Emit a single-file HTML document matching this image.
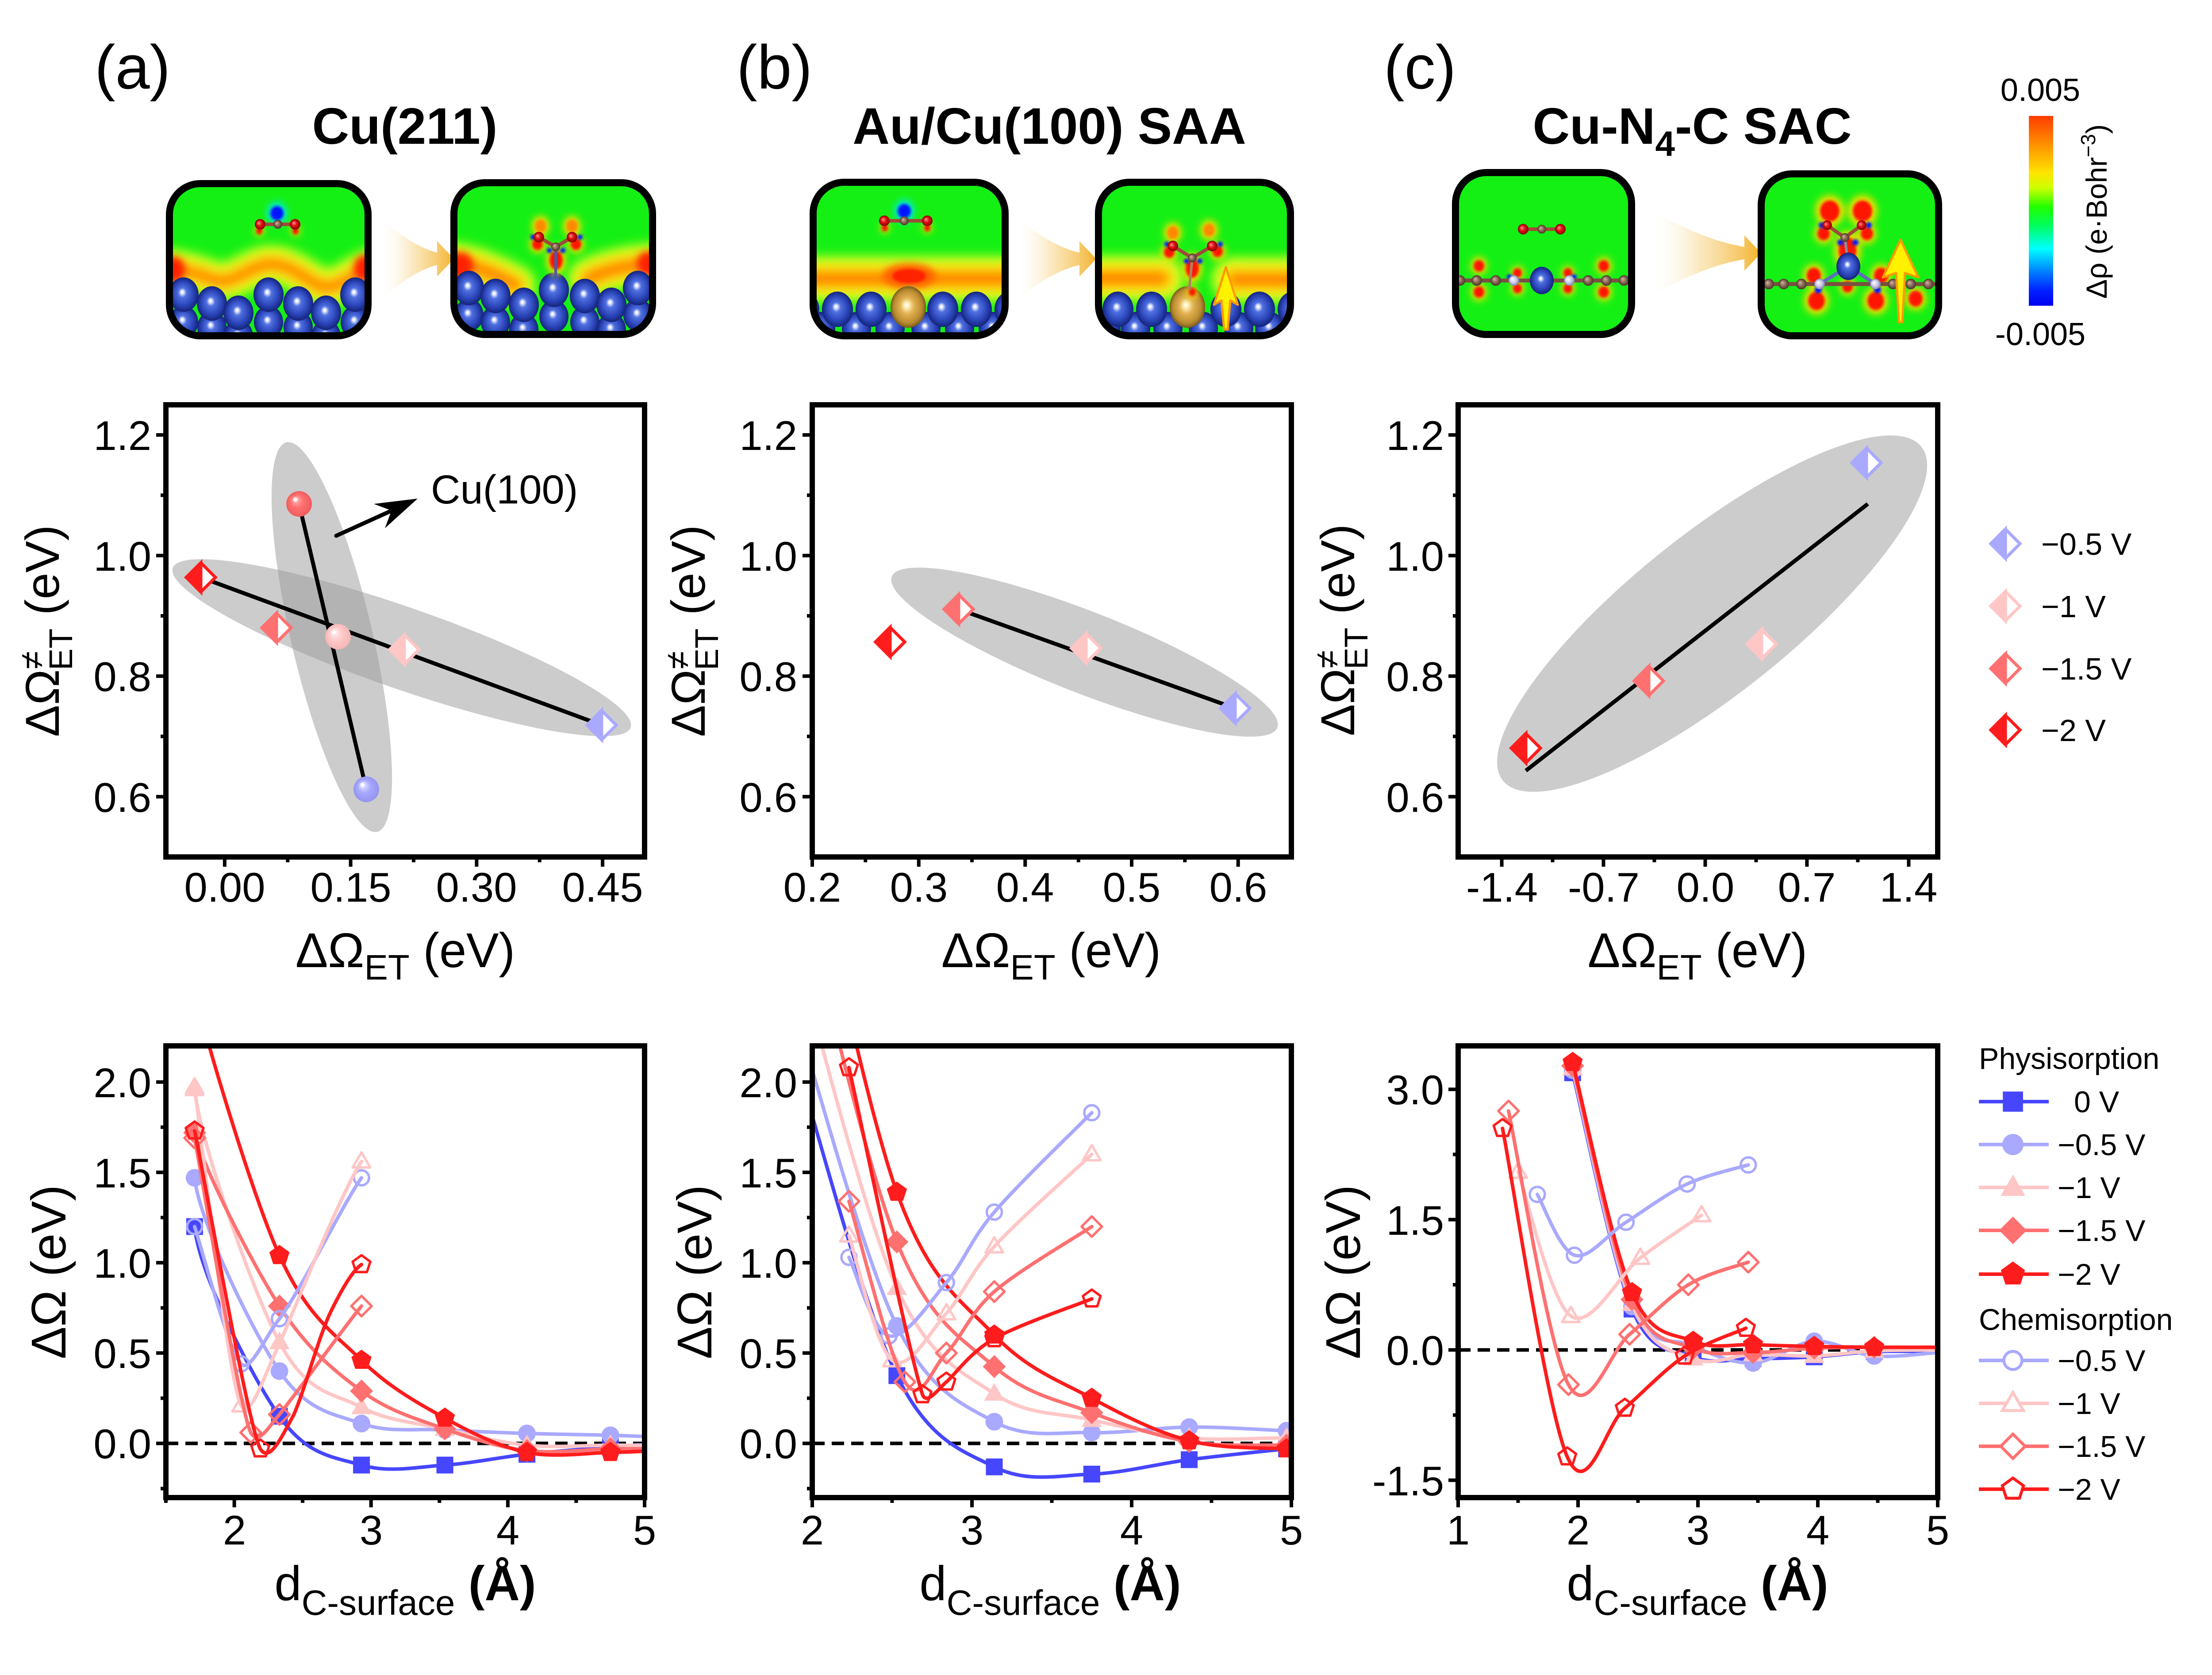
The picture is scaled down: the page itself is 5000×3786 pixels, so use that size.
<!DOCTYPE html>
<html><head><meta charset="utf-8"><title>chart</title>
<style>
html,body{margin:0;padding:0;background:#fff;width:5000px;height:3786px;overflow:hidden}
svg{display:block}
</style></head><body>
<svg xmlns="http://www.w3.org/2000/svg" width="5000" height="3786" viewBox="0 0 5000 3786" font-family="'Liberation Sans', Arial, sans-serif">
<defs>
 <radialGradient id="gB" cx="0.5" cy="0.5" r="0.5" fx="0.45" fy="0.42">
  <stop offset="0" stop-color="#ffffff"/><stop offset="0.08" stop-color="#eef2ff"/>
  <stop offset="0.28" stop-color="#5070e0"/><stop offset="0.7" stop-color="#2a44b8"/><stop offset="1" stop-color="#15247a"/>
 </radialGradient>
 <radialGradient id="gG" cx="0.5" cy="0.5" r="0.5" fx="0.45" fy="0.45">
  <stop offset="0" stop-color="#ffffff"/><stop offset="0.12" stop-color="#fff2c0"/>
  <stop offset="0.4" stop-color="#e2b050"/><stop offset="0.8" stop-color="#b88a30"/><stop offset="1" stop-color="#7a5a1a"/>
 </radialGradient>
 <radialGradient id="gO" cx="0.5" cy="0.5" r="0.5" fx="0.35" fy="0.35">
  <stop offset="0" stop-color="#ff9a9a"/><stop offset="0.5" stop-color="#e01010"/><stop offset="1" stop-color="#8a0000"/>
 </radialGradient>
 <radialGradient id="gC" cx="0.5" cy="0.5" r="0.5" fx="0.35" fy="0.35">
  <stop offset="0" stop-color="#d8b8a0"/><stop offset="0.6" stop-color="#806050"/><stop offset="1" stop-color="#4a3828"/>
 </radialGradient>
 <radialGradient id="gN" cx="0.5" cy="0.5" r="0.5" fx="0.35" fy="0.35">
  <stop offset="0" stop-color="#ffffff"/><stop offset="0.6" stop-color="#c8c8e8"/><stop offset="1" stop-color="#8080a8"/>
 </radialGradient>
 <radialGradient id="sS" cx="0.5" cy="0.5" r="0.5" fx="0.33" fy="0.3">
  <stop offset="0" stop-color="#ffffff"/><stop offset="0.1" stop-color="#ffffff"/><stop offset="0.22" stop-color="#ff9e9e"/>
  <stop offset="0.5" stop-color="#ff7070"/><stop offset="1" stop-color="#f05c5c"/>
 </radialGradient>
 <radialGradient id="sP" cx="0.5" cy="0.5" r="0.5" fx="0.33" fy="0.3">
  <stop offset="0" stop-color="#ffffff"/><stop offset="0.1" stop-color="#ffffff"/><stop offset="0.22" stop-color="#ffe2e2"/>
  <stop offset="0.5" stop-color="#ffcaca"/><stop offset="1" stop-color="#f5b6b6"/>
 </radialGradient>
 <radialGradient id="sL" cx="0.5" cy="0.5" r="0.5" fx="0.33" fy="0.3">
  <stop offset="0" stop-color="#ffffff"/><stop offset="0.1" stop-color="#ffffff"/><stop offset="0.22" stop-color="#d0d0ff"/>
  <stop offset="0.5" stop-color="#a8a8ff"/><stop offset="1" stop-color="#9494f0"/>
 </radialGradient>
 <linearGradient id="chev" x1="0" y1="0" x2="1" y2="0">
  <stop offset="0" stop-color="#ffffff" stop-opacity="0"/><stop offset="0.45" stop-color="#f8dc9c" stop-opacity="0.65"/><stop offset="1" stop-color="#f4b22c"/>
 </linearGradient>
 <linearGradient id="cbar" x1="0" y1="0" x2="0" y2="1">
  <stop offset="0" stop-color="#ff3c00"/><stop offset="0.15" stop-color="#ff9000"/><stop offset="0.3" stop-color="#ffe400"/>
  <stop offset="0.38" stop-color="#ccff00"/><stop offset="0.48" stop-color="#20ff00"/><stop offset="0.58" stop-color="#00ff60"/>
  <stop offset="0.7" stop-color="#00ffff"/><stop offset="0.82" stop-color="#0080ff"/><stop offset="0.92" stop-color="#0020ff"/><stop offset="1" stop-color="#0000f0"/>
 </linearGradient>
 <filter id="fb3" filterUnits="userSpaceOnUse" x="300" y="340" width="4200" height="460"><feGaussianBlur stdDeviation="3"/></filter>
 <filter id="fb8" filterUnits="userSpaceOnUse" x="300" y="340" width="4200" height="460"><feGaussianBlur stdDeviation="8"/></filter>
 <filter id="fb12" filterUnits="userSpaceOnUse" x="300" y="340" width="4200" height="460"><feGaussianBlur stdDeviation="12"/></filter>

 <clipPath id="clA"><rect x="375" y="2364" width="1082" height="1021"/></clipPath>
 <clipPath id="clB"><rect x="1836" y="2364" width="1083" height="1021"/></clipPath>
 <clipPath id="clC"><rect x="3296" y="2364" width="1084" height="1021"/></clipPath>
 <clipPath id="kAL"><rect x="383" y="415" width="449" height="344" rx="70"/></clipPath>
 <clipPath id="kAR"><rect x="1026" y="413" width="449" height="343" rx="70"/></clipPath>
 <clipPath id="kBL"><rect x="1838" y="412" width="434" height="347" rx="70"/></clipPath>
 <clipPath id="kBR"><rect x="2483" y="412" width="434" height="347" rx="70"/></clipPath>
 <clipPath id="kCL"><rect x="3290" y="390" width="398" height="366" rx="70"/></clipPath>
 <clipPath id="kCR"><rect x="3981" y="393" width="401" height="366" rx="70"/></clipPath>

 <path id="bandAL" d="M360,604 C400,604 440,616 482,632 C522,646 552,610 600,598 C640,590 680,622 722,646 C762,662 800,612 850,602"/>
 <path id="bandAR1" d="M1000,592 C1060,594 1110,615 1165,645"/>
 <path id="bandAR2" d="M1330,630 C1370,610 1420,598 1500,594"/>
 <path id="bandBL" d="M1820,630 L2290,630"/>
 <path id="bandBR1" d="M2460,629 L2625,629"/>
 <path id="bandBR2" d="M2790,632 L2940,632"/>

 <!-- markers -->
 <g id="mSq"><rect x="-19" y="-19" width="38" height="38" fill="#4646ff"/></g>
 <g id="mCiF"><circle r="20" fill="#a9a9ff"/></g>
 <g id="mTrF"><polygon points="0,-24.2 23.1,15.8 -23.1,15.8" fill="#ffc6c6"/></g>
 <g id="mDiF"><polygon points="0,-26 26,0 0,26 -26,0" fill="#ff7070"/></g>
 <g id="mPeF"><polygon points="0,-24 22.83,-7.42 14.11,19.42 -14.11,19.42 -22.83,-7.42" fill="#ff1c1c"/></g>
 <g id="mCiO"><circle r="17" fill="none" stroke="#a9a9ff" stroke-width="5.5"/></g>
 <g id="mTrO"><polygon points="0,-20.7 19.8,13.5 -19.8,13.5" fill="none" stroke="#ffc6c6" stroke-width="5.5"/></g>
 <g id="mDiO"><polygon points="0,-23 23,0 0,23 -23,0" fill="none" stroke="#ff7070" stroke-width="5.5"/></g>
 <g id="mPeO"><polygon points="0,-21 19.97,-6.49 12.34,16.99 -12.34,16.99 -19.97,-6.49" fill="none" stroke="#ff1c1c" stroke-width="5.5"/></g>
 <g id="hd05"><polygon points="0,-33 33,0 0,33 -33,0" fill="#fff" stroke="#a9a9ff" stroke-width="7"/><polygon points="0,-33 0,33 -33,0" fill="#a9a9ff" stroke="#a9a9ff" stroke-width="7"/></g>
 <g id="hd1"><polygon points="0,-33 33,0 0,33 -33,0" fill="#fff" stroke="#ffc6c6" stroke-width="7"/><polygon points="0,-33 0,33 -33,0" fill="#ffc6c6" stroke="#ffc6c6" stroke-width="7"/></g>
 <g id="hd15"><polygon points="0,-33 33,0 0,33 -33,0" fill="#fff" stroke="#ff7070" stroke-width="7"/><polygon points="0,-33 0,33 -33,0" fill="#ff7070" stroke="#ff7070" stroke-width="7"/></g>
 <g id="hd2"><polygon points="0,-33 33,0 0,33 -33,0" fill="#fff" stroke="#ff1c1c" stroke-width="7"/><polygon points="0,-33 0,33 -33,0" fill="#ff1c1c" stroke="#ff1c1c" stroke-width="7"/></g>
</defs>

<rect width="5000" height="3786" fill="#fff"/>

<!-- ================= TOP IMAGES ================= -->
<path d="M857,488 Q929,556 988,571 L988,545 L1026,585 L988,625 L988,599 Q929,614 857,682 Z" fill="url(#chev)"/>
<path d="M2294,488 Q2374,556 2440,571 L2440,545 L2478,585 L2440,625 L2440,599 Q2374,614 2294,682 Z" fill="url(#chev)"/>
<path d="M3728,472 Q3846,542 3943,558 L3943,532 L3981,572 L3943,612 L3943,586 Q3846,602 3728,672 Z" fill="url(#chev)"/>

<!-- aL -->
<g clip-path="url(#kAL)">
 <rect x="383" y="415" width="449" height="344" fill="#14f014"/>
 <g filter="url(#fb12)" fill="none">
  <use href="#bandAL" stroke="#e0ff20" stroke-width="84"/>
  <use href="#bandAL" stroke="#ffc800" stroke-width="44"/>
  <use href="#bandAL" stroke="#ff7a00" stroke-width="20"/>
 </g>
 <g filter="url(#fb8)" fill="#ff2000"><ellipse cx="392" cy="610" rx="26" ry="30"/><ellipse cx="826" cy="606" rx="26" ry="30"/></g>
 <g fill="url(#gB)">
  <ellipse cx="415" cy="728" rx="33" ry="37"/><ellipse cx="479" cy="740" rx="33" ry="37"/><ellipse cx="539" cy="760" rx="33" ry="37"/><ellipse cx="607" cy="728" rx="33" ry="37"/><ellipse cx="674" cy="740" rx="33" ry="37"/><ellipse cx="737" cy="760" rx="33" ry="37"/><ellipse cx="803" cy="728" rx="33" ry="37"/>
  <ellipse cx="415" cy="666" rx="34" ry="39"/><ellipse cx="479" cy="686" rx="34" ry="39"/><ellipse cx="539" cy="707" rx="34" ry="39"/><ellipse cx="607" cy="666" rx="34" ry="39"/><ellipse cx="674" cy="686" rx="34" ry="39"/><ellipse cx="737" cy="707" rx="34" ry="39"/><ellipse cx="803" cy="666" rx="34" ry="39"/>
 </g>
 <g filter="url(#fb8)"><ellipse cx="626" cy="482" rx="22" ry="25" fill="#00e8e8"/><ellipse cx="586" cy="522" rx="10" ry="12" fill="#f4e000"/><ellipse cx="668" cy="522" rx="10" ry="12" fill="#f4e000"/></g>
 <g filter="url(#fb3)"><ellipse cx="626" cy="482" rx="15" ry="16" fill="#0018ff"/><ellipse cx="586" cy="522" rx="7" ry="8" fill="#ff1200"/><ellipse cx="668" cy="522" rx="7" ry="8" fill="#ff1200"/></g>
 <line x1="588" y1="507" x2="667" y2="507" stroke="#a04a38" stroke-width="8"/>
 <circle cx="588" cy="507" r="12" fill="url(#gO)"/><circle cx="667" cy="507" r="12" fill="url(#gO)"/><circle cx="628" cy="507" r="10" fill="url(#gC)"/>
</g>
<rect x="383" y="415" width="449" height="344" rx="70" fill="none" stroke="#000" stroke-width="16"/>

<!-- aR -->
<g clip-path="url(#kAR)">
 <rect x="1026" y="413" width="449" height="343" fill="#14f014"/>
 <g filter="url(#fb12)" fill="none" stroke-linecap="round">
  <use href="#bandAR1" stroke="#e0ff20" stroke-width="90"/><use href="#bandAR2" stroke="#e0ff20" stroke-width="90"/>
  <use href="#bandAR1" stroke="#ffc800" stroke-width="50"/><use href="#bandAR2" stroke="#ffc800" stroke-width="50"/>
  <use href="#bandAR1" stroke="#ff7a00" stroke-width="24"/><use href="#bandAR2" stroke="#ff7a00" stroke-width="24"/>
 </g>
 <g filter="url(#fb8)" fill="#ff2000"><ellipse cx="1040" cy="600" rx="30" ry="30"/><ellipse cx="1466" cy="596" rx="26" ry="28"/></g>
 <g fill="url(#gB)">
  <ellipse cx="1060" cy="712" rx="33" ry="37"/><ellipse cx="1120" cy="728" rx="33" ry="37"/><ellipse cx="1184" cy="745" rx="33" ry="37"/><ellipse cx="1252" cy="715" rx="33" ry="37"/><ellipse cx="1322" cy="728" rx="33" ry="37"/><ellipse cx="1382" cy="745" rx="33" ry="37"/><ellipse cx="1442" cy="712" rx="33" ry="37"/>
  <ellipse cx="1060" cy="651" rx="34" ry="39"/><ellipse cx="1120" cy="669" rx="34" ry="39"/><ellipse cx="1184" cy="689" rx="34" ry="39"/><ellipse cx="1252" cy="655" rx="34" ry="39"/><ellipse cx="1322" cy="669" rx="34" ry="39"/><ellipse cx="1382" cy="689" rx="34" ry="39"/><ellipse cx="1442" cy="651" rx="34" ry="39"/>
 </g>
 <g filter="url(#fb8)" fill="#f4e000">
  <ellipse cx="1222" cy="511" rx="20" ry="23"/><ellipse cx="1293" cy="511" rx="20" ry="23"/><ellipse cx="1215" cy="552" rx="18" ry="20"/><ellipse cx="1302" cy="552" rx="18" ry="20"/><ellipse cx="1257" cy="588" rx="22" ry="34"/>
 </g>
 <g filter="url(#fb3)">
  <ellipse cx="1222" cy="511" rx="13" ry="15" fill="#ff8a00"/><ellipse cx="1293" cy="511" rx="13" ry="15" fill="#ff8a00"/><ellipse cx="1215" cy="552" rx="12" ry="13" fill="#ff1200"/><ellipse cx="1302" cy="552" rx="12" ry="13" fill="#ff1200"/><ellipse cx="1257" cy="588" rx="15" ry="22" fill="#ff1200"/>
 </g>
 <g filter="url(#fb3)" fill="#0018ff"><circle cx="1205" cy="536" r="6"/><circle cx="1311" cy="536" r="6"/><circle cx="1242" cy="566" r="6"/><circle cx="1272" cy="566" r="6"/></g>
 <line x1="1256" y1="560" x2="1256" y2="628" stroke="#4a5aa8" stroke-width="6"/>
 <line x1="1218" y1="536" x2="1256" y2="558" stroke="#a04a38" stroke-width="8"/><line x1="1293" y1="536" x2="1256" y2="558" stroke="#a04a38" stroke-width="8"/>
 <circle cx="1218" cy="536" r="12" fill="url(#gO)"/><circle cx="1293" cy="536" r="12" fill="url(#gO)"/><circle cx="1256" cy="558" r="10" fill="url(#gC)"/>
</g>
<rect x="1026" y="413" width="449" height="343" rx="70" fill="none" stroke="#000" stroke-width="16"/>

<!-- bL -->
<g clip-path="url(#kBL)">
 <rect x="1838" y="412" width="434" height="347" fill="#14f014"/>
 <g filter="url(#fb12)" fill="none">
  <use href="#bandBL" stroke="#e0ff20" stroke-width="100"/>
  <use href="#bandBL" stroke="#ffc800" stroke-width="56"/>
  <use href="#bandBL" stroke="#ff7a00" stroke-width="26"/>
 </g>
 <g filter="url(#fb8)"><ellipse cx="2055" cy="624" rx="60" ry="28" fill="#ff6000"/></g>
 <g filter="url(#fb3)"><ellipse cx="2055" cy="624" rx="38" ry="16" fill="#ff2000"/></g>
 <g filter="url(#fb8)"><ellipse cx="2055" cy="668" rx="13" ry="15" fill="#00e8e8"/></g>
 <g filter="url(#fb3)"><ellipse cx="2055" cy="668" rx="9" ry="10" fill="#0018ff"/></g>
 <g fill="url(#gB)">
  <ellipse cx="1855" cy="742" rx="33" ry="37"/><ellipse cx="1936" cy="742" rx="33" ry="37"/><ellipse cx="2012" cy="742" rx="33" ry="37"/><ellipse cx="2093" cy="742" rx="33" ry="37"/><ellipse cx="2169" cy="742" rx="33" ry="37"/><ellipse cx="2245" cy="742" rx="33" ry="37"/>
  <ellipse cx="1817" cy="699" rx="35" ry="40"/><ellipse cx="1893" cy="699" rx="35" ry="40"/><ellipse cx="1969" cy="699" rx="35" ry="40"/><ellipse cx="2131" cy="699" rx="35" ry="40"/><ellipse cx="2207" cy="699" rx="35" ry="40"/><ellipse cx="2283" cy="699" rx="35" ry="40"/>
 </g>
 <ellipse cx="2053" cy="694" rx="40" ry="47" fill="url(#gG)"/>
 <g filter="url(#fb8)"><ellipse cx="2044" cy="477" rx="22" ry="25" fill="#00e8e8"/><ellipse cx="2000" cy="515" rx="10" ry="12" fill="#f4e000"/><ellipse cx="2096" cy="515" rx="10" ry="12" fill="#f4e000"/></g>
 <g filter="url(#fb3)"><ellipse cx="2044" cy="477" rx="15" ry="16" fill="#0018ff"/><ellipse cx="2000" cy="515" rx="7" ry="8" fill="#ff1200"/><ellipse cx="2096" cy="515" rx="7" ry="8" fill="#ff1200"/></g>
 <line x1="1999" y1="499" x2="2096" y2="499" stroke="#a04a38" stroke-width="8"/>
 <circle cx="1999" cy="499" r="12" fill="url(#gO)"/><circle cx="2096" cy="499" r="12" fill="url(#gO)"/><circle cx="2044" cy="499" r="10" fill="url(#gC)"/>
</g>
<rect x="1838" y="412" width="434" height="347" rx="70" fill="none" stroke="#000" stroke-width="16"/>

<!-- bR -->
<g clip-path="url(#kBR)">
 <rect x="2483" y="412" width="434" height="347" fill="#14f014"/>
 <g filter="url(#fb12)" fill="none" stroke-linecap="round">
  <use href="#bandBR1" stroke="#e0ff20" stroke-width="100"/><use href="#bandBR2" stroke="#e0ff20" stroke-width="100"/>
  <use href="#bandBR1" stroke="#ffc800" stroke-width="56"/><use href="#bandBR2" stroke="#ffc800" stroke-width="56"/>
  <use href="#bandBR1" stroke="#ff7a00" stroke-width="26"/><use href="#bandBR2" stroke="#ff7a00" stroke-width="26"/>
 </g>
 <g fill="url(#gB)">
  <ellipse cx="2500" cy="742" rx="33" ry="37"/><ellipse cx="2567" cy="742" rx="33" ry="37"/><ellipse cx="2640" cy="742" rx="33" ry="37"/><ellipse cx="2720" cy="742" rx="33" ry="37"/><ellipse cx="2800" cy="742" rx="33" ry="37"/><ellipse cx="2870" cy="742" rx="33" ry="37"/>
  <ellipse cx="2451" cy="699" rx="35" ry="40"/><ellipse cx="2527" cy="699" rx="35" ry="40"/><ellipse cx="2603" cy="699" rx="35" ry="40"/><ellipse cx="2771" cy="699" rx="35" ry="40"/><ellipse cx="2847" cy="699" rx="35" ry="40"/><ellipse cx="2923" cy="699" rx="35" ry="40"/>
 </g>
 <ellipse cx="2684" cy="694" rx="40" ry="47" fill="url(#gG)"/>
 <g filter="url(#fb8)" fill="#f4e000">
  <ellipse cx="2651" cy="526" rx="20" ry="23"/><ellipse cx="2733" cy="520" rx="20" ry="23"/><ellipse cx="2643" cy="570" rx="18" ry="20"/><ellipse cx="2752" cy="568" rx="18" ry="20"/><ellipse cx="2695" cy="606" rx="22" ry="34"/><ellipse cx="2695" cy="660" rx="12" ry="13"/>
 </g>
 <g filter="url(#fb3)">
  <ellipse cx="2651" cy="526" rx="13" ry="15" fill="#ff8a00"/><ellipse cx="2733" cy="520" rx="13" ry="15" fill="#ff8a00"/><ellipse cx="2643" cy="570" rx="12" ry="13" fill="#ff1200"/><ellipse cx="2752" cy="568" rx="12" ry="13" fill="#ff1200"/><ellipse cx="2695" cy="606" rx="15" ry="22" fill="#ff1200"/><ellipse cx="2695" cy="660" rx="8" ry="9" fill="#ff1200"/>
 </g>
 <g filter="url(#fb3)" fill="#0018ff"><circle cx="2638" cy="552" r="6"/><circle cx="2758" cy="552" r="6"/><circle cx="2682" cy="590" r="6"/><circle cx="2712" cy="590" r="6"/></g>
 <line x1="2695" y1="583" x2="2688" y2="655" stroke="#b08060" stroke-width="6"/>
 <line x1="2651" y1="556" x2="2695" y2="583" stroke="#a04a38" stroke-width="8"/><line x1="2740" y1="556" x2="2695" y2="583" stroke="#a04a38" stroke-width="8"/>
 <circle cx="2651" cy="556" r="12" fill="url(#gO)"/><circle cx="2740" cy="556" r="12" fill="url(#gO)"/><circle cx="2695" cy="583" r="10" fill="url(#gC)"/>
 <polygon points="2767,745 2775,745 2781,679 2798,689 2771,604 2744,689 2761,679" fill="#fff200" stroke="#ff9a00" stroke-width="5" stroke-linejoin="round"/>
</g>
<rect x="2483" y="412" width="434" height="347" rx="70" fill="none" stroke="#000" stroke-width="16"/>

<!-- cL -->
<g clip-path="url(#kCL)">
 <rect x="3290" y="390" width="398" height="366" fill="#14f014"/>
 <g filter="url(#fb8)" fill="#f4e000">
  <ellipse cx="3343" cy="601" rx="18" ry="20"/><ellipse cx="3343" cy="660" rx="18" ry="20"/><ellipse cx="3430" cy="617" rx="15" ry="16"/><ellipse cx="3430" cy="652" rx="15" ry="16"/>
  <ellipse cx="3544" cy="617" rx="15" ry="16"/><ellipse cx="3544" cy="652" rx="15" ry="16"/><ellipse cx="3625" cy="601" rx="18" ry="20"/><ellipse cx="3625" cy="660" rx="18" ry="20"/>
 </g>
 <g filter="url(#fb3)" fill="#ff1200">
  <ellipse cx="3343" cy="601" rx="12" ry="13"/><ellipse cx="3343" cy="660" rx="12" ry="13"/><ellipse cx="3430" cy="617" rx="10" ry="11"/><ellipse cx="3430" cy="652" rx="10" ry="11"/>
  <ellipse cx="3544" cy="617" rx="10" ry="11"/><ellipse cx="3544" cy="652" rx="10" ry="11"/><ellipse cx="3625" cy="601" rx="12" ry="13"/><ellipse cx="3625" cy="660" rx="12" ry="13"/>
 </g>
 <g filter="url(#fb3)" fill="#0018ff"><circle cx="3412" cy="626" r="6"/><circle cx="3558" cy="626" r="6"/></g>
 <line x1="3270" y1="634" x2="3710" y2="634" stroke="#7a5040" stroke-width="9"/>
 <g fill="url(#gC)"><circle cx="3300" cy="634" r="12"/><circle cx="3338" cy="634" r="12"/><circle cx="3381" cy="634" r="12"/><circle cx="3590" cy="634" r="12"/><circle cx="3631" cy="634" r="12"/><circle cx="3671" cy="634" r="12"/></g>
 <circle cx="3422" cy="634" r="12" fill="url(#gN)"/><circle cx="3547" cy="634" r="12" fill="url(#gN)"/>
 <ellipse cx="3485" cy="634" rx="27" ry="31" fill="url(#gB)"/>
 <line x1="3443" y1="518" x2="3527" y2="518" stroke="#a04a38" stroke-width="8"/>
 <circle cx="3443" cy="518" r="12" fill="url(#gO)"/><circle cx="3527" cy="518" r="12" fill="url(#gO)"/><circle cx="3485" cy="518" r="10" fill="url(#gC)"/>
</g>
<rect x="3290" y="390" width="398" height="366" rx="70" fill="none" stroke="#000" stroke-width="16"/>

<!-- cR -->
<g clip-path="url(#kCR)">
 <rect x="3981" y="393" width="401" height="366" fill="#14f014"/>
 <g filter="url(#fb8)" fill="#f4e000">
  <ellipse cx="4136" cy="477" rx="33" ry="36"/><ellipse cx="4210" cy="477" rx="33" ry="36"/><ellipse cx="4122" cy="528" rx="21" ry="23"/><ellipse cx="4220" cy="528" rx="21" ry="23"/>
  <ellipse cx="4176" cy="566" rx="30" ry="45"/><ellipse cx="4100" cy="623" rx="24" ry="26"/><ellipse cx="4252" cy="623" rx="24" ry="26"/><ellipse cx="4106" cy="680" rx="28" ry="31"/>
  <ellipse cx="4240" cy="680" rx="28" ry="31"/><ellipse cx="4330" cy="675" rx="24" ry="26"/><ellipse cx="4176" cy="648" rx="18" ry="20"/>
 </g>
 <g filter="url(#fb3)" fill="#ff1200">
  <ellipse cx="4136" cy="477" rx="22" ry="24"/><ellipse cx="4210" cy="477" rx="22" ry="24"/><ellipse cx="4122" cy="528" rx="14" ry="15"/><ellipse cx="4220" cy="528" rx="14" ry="15"/>
  <ellipse cx="4176" cy="566" rx="20" ry="30"/><ellipse cx="4100" cy="623" rx="16" ry="18"/><ellipse cx="4252" cy="623" rx="16" ry="18"/><ellipse cx="4106" cy="680" rx="19" ry="21"/>
  <ellipse cx="4240" cy="680" rx="19" ry="21"/><ellipse cx="4330" cy="675" rx="16" ry="18"/><ellipse cx="4176" cy="648" rx="12" ry="13"/>
 </g>
 <g filter="url(#fb3)" fill="#0018ff"><circle cx="4118" cy="509" r="7"/><circle cx="4224" cy="509" r="7"/><circle cx="4160" cy="548" r="7"/><circle cx="4194" cy="548" r="7"/><circle cx="4110" cy="655" r="8"/><circle cx="4244" cy="655" r="8"/></g>
 <line x1="3975" y1="642" x2="4390" y2="642" stroke="#7a5040" stroke-width="9"/>
 <line x1="4113" y1="642" x2="4178" y2="602" stroke="#6070b8" stroke-width="8"/><line x1="4239" y1="642" x2="4178" y2="602" stroke="#6070b8" stroke-width="8"/>
 <g fill="url(#gC)"><circle cx="3998" cy="642" r="12"/><circle cx="4032" cy="642" r="12"/><circle cx="4072" cy="642" r="12"/><circle cx="4279" cy="642" r="12"/><circle cx="4319" cy="642" r="12"/><circle cx="4359" cy="642" r="12"/></g>
 <circle cx="4113" cy="642" r="12" fill="url(#gN)"/><circle cx="4239" cy="642" r="12" fill="url(#gN)"/>
 <line x1="4170" y1="537" x2="4178" y2="600" stroke="#8a8aa0" stroke-width="6"/>
 <ellipse cx="4178" cy="602" rx="27" ry="31" fill="url(#gB)"/>
 <line x1="4130" y1="509" x2="4170" y2="537" stroke="#a04a38" stroke-width="8"/><line x1="4208" y1="509" x2="4170" y2="537" stroke="#a04a38" stroke-width="8"/>
 <circle cx="4130" cy="509" r="11" fill="url(#gO)"/><circle cx="4208" cy="509" r="11" fill="url(#gO)"/><circle cx="4170" cy="537" r="10" fill="url(#gC)"/>
 <polygon points="4292,728 4300,728 4306,617 4336,627 4296,542 4256,627 4286,617" fill="#fff200" stroke="#ff9a00" stroke-width="5" stroke-linejoin="round"/>
</g>
<rect x="3981" y="393" width="401" height="366" rx="70" fill="none" stroke="#000" stroke-width="16"/>

<rect x="4586" y="262" width="55" height="429" fill="url(#cbar)"/>

<!-- ================= MIDDLE ROW ================= -->
<!-- A2 -->
<ellipse cx="908" cy="1464" rx="548" ry="92" transform="rotate(19.2 908 1464)" fill="#999" fill-opacity="0.5"/>
<ellipse cx="750" cy="1440" rx="92" ry="452" transform="rotate(-13.1 750 1440)" fill="#999" fill-opacity="0.5"/>
<line x1="454" y1="1305" x2="1360" y2="1639" stroke="#000" stroke-width="9"/>
<line x1="676" y1="1139" x2="828" y2="1784" stroke="#000" stroke-width="9"/>
<line x1="760" y1="1211" x2="890" y2="1152" stroke="#000" stroke-width="9" stroke-linecap="round"/>
<polygon points="944,1127 845,1139 885,1154 870,1194" fill="#000"/>
<use href="#hd2" x="454" y="1305"/><use href="#hd15" x="625" y="1419"/><use href="#hd1" x="914" y="1468"/><use href="#hd05" x="1360" y="1639"/>
<circle cx="676" cy="1139" r="29" fill="url(#sS)"/>
<circle cx="764" cy="1439" r="29" fill="url(#sP)"/>
<circle cx="828" cy="1784" r="29" fill="url(#sL)"/>
<g stroke="#000" fill="none">
 <path stroke-width="8" d="M507.9,1937 v22 M792.6,1937 v22 M1077.4,1937 v22 M1362.1,1937 v22 M650.3,1937 v12 M935,1937 v12 M1219.7,1937 v12 M375,1800.7 h-22 M375,1528.2 h-22 M375,1255.7 h-22 M375,983.1 h-22 M375,1664.5 h-12 M375,1392 h-12 M375,1119.4 h-12"/>
 <rect x="375" y="915" width="1082" height="1022" stroke-width="12"/>
</g>
<!-- B2 -->
<ellipse cx="2451.5" cy="1474" rx="468" ry="92" transform="rotate(21.4 2451.5 1474)" fill="#999" fill-opacity="0.5"/>
<line x1="2167" y1="1377" x2="2792" y2="1601" stroke="#000" stroke-width="9"/>
<use href="#hd2" x="2012" y="1451"/><use href="#hd15" x="2167" y="1377"/><use href="#hd1" x="2455" y="1465"/><use href="#hd05" x="2792" y="1601"/>
<g stroke="#000" fill="none">
 <path stroke-width="8" d="M1836,1937 v22 M2076.7,1937 v22 M2317.3,1937 v22 M2558,1937 v22 M2798.7,1937 v22 M1956.3,1937 v12 M2197,1937 v12 M2437.7,1937 v12 M2678.3,1937 v12 M1836,1800.7 h-22 M1836,1528.2 h-22 M1836,1255.7 h-22 M1836,983.1 h-22 M1836,1664.5 h-12 M1836,1392 h-12 M1836,1119.4 h-12"/>
 <rect x="1836" y="915" width="1083" height="1022" stroke-width="12"/>
</g>
<!-- C2 -->
<ellipse cx="3870" cy="1387" rx="605" ry="180" transform="rotate(-38.6 3870 1387)" fill="#999" fill-opacity="0.5"/>
<line x1="3449" y1="1742" x2="4222" y2="1139" stroke="#000" stroke-width="9"/>
<use href="#hd2" x="3449" y="1691"/><use href="#hd15" x="3727" y="1539"/><use href="#hd1" x="3982" y="1456"/><use href="#hd05" x="4219" y="1046"/>
<g stroke="#000" fill="none">
 <path stroke-width="8" d="M3394.6,1937 v22 M3624.5,1937 v22 M3854.5,1937 v22 M4084.4,1937 v22 M4314.4,1937 v22 M3509.5,1937 v12 M3739.5,1937 v12 M3969.5,1937 v12 M4199.4,1937 v12 M3296,1800.7 h-22 M3296,1528.2 h-22 M3296,1255.7 h-22 M3296,983.1 h-22 M3296,1664.5 h-12 M3296,1392 h-12 M3296,1119.4 h-12"/>
 <rect x="3296" y="915" width="1084" height="1022" stroke-width="12"/>
</g>
<!-- middle legend markers -->
<use href="#hd05" x="4533" y="1229"/><use href="#hd1" x="4533" y="1370"/><use href="#hd15" x="4533" y="1511"/><use href="#hd2" x="4533" y="1650"/>

<!-- ================= BOTTOM ROW ================= -->
<!-- A3 -->
<g clip-path="url(#clA)" fill="none" stroke-width="8" stroke-linejoin="round" stroke-linecap="round">
 <line x1="375" y1="3262.5" x2="1457" y2="3262.5" stroke="#000" stroke-width="8" stroke-dasharray="28 16" stroke-linecap="butt"/>
 <path stroke="#4646ff" d="M439.9,2772.4 C450,2880 568.7,3111.3 631.6,3201.2 S754.8,3293.1 817.1,3311.5 S943.3,3315.6 1005.6,3311.5 S1128.7,3293.8 1191.1,3287 S1330.2,3274.8 1379.7,3270.7 S1469.9,3263.9 1487.9,3262.5"/>
 <use href="#mSq" x="439.9" y="2772.4"/><use href="#mSq" x="631.6" y="3201.2"/><use href="#mSq" x="817.1" y="3311.5"/><use href="#mSq" x="1005.6" y="3311.5"/><use href="#mSq" x="1191.1" y="3287"/><use href="#mSq" x="1379.7" y="3270.7"/>
 <path stroke="#a9a9ff" d="M439.9,2662.2 C450,2760 568.7,3006.5 631.6,3099.1 S754.8,3195.5 817.1,3217.6 S943.3,3228.2 1005.6,3231.9 S1128.7,3238 1191.1,3240 S1330.2,3242.7 1379.7,3244.1 S1469.9,3247.5 1487.9,3248.2"/>
 <use href="#mCiF" x="439.9" y="2662.2"/><use href="#mCiF" x="631.6" y="3099.1"/><use href="#mCiF" x="817.1" y="3217.6"/><use href="#mCiF" x="1005.6" y="3231.9"/><use href="#mCiF" x="1191.1" y="3240"/><use href="#mCiF" x="1379.7" y="3244.1"/>
 <path stroke="#ffc6c6" d="M439.9,2462 C452,2580 568.7,2914 631.6,3033.8 S754.8,3148.1 817.1,3180.8 S943.3,3215.5 1005.6,3229.8 S1128.7,3260.5 1191.1,3266.6 S1330.2,3266.6 1379.7,3266.6 S1469.9,3266.6 1487.9,3266.6"/>
 <use href="#mTrF" x="439.9" y="2462"/><use href="#mTrF" x="631.6" y="3033.8"/><use href="#mTrF" x="817.1" y="3180.8"/><use href="#mTrF" x="1005.6" y="3229.8"/><use href="#mTrF" x="1191.1" y="3266.6"/><use href="#mTrF" x="1379.7" y="3266.6"/>
 <path stroke="#ff7070" d="M439.9,2560.1 C455,2630 568.7,2854.8 631.6,2952.1 S754.8,3097.8 817.1,3144.1 S943.3,3207.3 1005.6,3229.8 S1128.7,3271.3 1191.1,3278.8 S1330.2,3275.5 1379.7,3274.8 S1469.9,3274.8 1487.9,3274.8"/>
 <use href="#mDiF" x="439.9" y="2560.1"/><use href="#mDiF" x="631.6" y="2952.1"/><use href="#mDiF" x="817.1" y="3144.1"/><use href="#mDiF" x="1005.6" y="3229.8"/><use href="#mDiF" x="1191.1" y="3278.8"/><use href="#mDiF" x="1379.7" y="3274.8"/>
 <path stroke="#ff1c1c" d="M439.9,2241.5 C460,2330 568.7,2698.9 631.6,2837.8 S754.8,3013.3 817.1,3074.6 S943.3,3170.6 1005.6,3205.3 S1128.7,3270 1191.1,3282.9 S1330.2,3283.6 1379.7,3282.9 S1469.9,3279.5 1487.9,3278.8"/>
 <use href="#mPeF" x="631.6" y="2837.8"/><use href="#mPeF" x="817.1" y="3074.6"/><use href="#mPeF" x="1005.6" y="3205.3"/><use href="#mPeF" x="1191.1" y="3282.9"/><use href="#mPeF" x="1379.7" y="3282.9"/>
 <path stroke="#a9a9ff" d="M439.9,2772.4 C457,2824 515,3050 545,3082.8 C565,3105 600,3020 631.6,2980.7 C690,2900 770,2730 817.1,2662.2"/>
 <use href="#mCiO" x="439.9" y="2772.4"/><use href="#mCiO" x="545" y="3082.8"/><use href="#mCiO" x="631.6" y="2980.7"/><use href="#mCiO" x="817.1" y="2662.2"/>
 <path stroke="#ffc6c6" d="M439.9,2458 C457,2578 515,3120 545,3176.7 C565,3215 600,3100 631.6,3037.9 C690,2900 770,2700 817.1,2625.4"/>
 <use href="#mTrO" x="439.9" y="2458"/><use href="#mTrO" x="545" y="3176.7"/><use href="#mTrO" x="817.1" y="2625.4"/>
 <path stroke="#ff7070" d="M439.9,2572.3 C461,2683 540,3180 566.7,3238 C585,3270 610,3220 631.6,3197.2 C700,3110 770,3010 817.1,2952.1"/>
 <use href="#mDiO" x="439.9" y="2572.3"/><use href="#mDiO" x="566.7" y="3238"/><use href="#mDiO" x="631.6" y="3197.2"/><use href="#mDiO" x="817.1" y="2952.1"/>
 <path stroke="#ff1c1c" d="M439.9,2556 C464.6,2675.8 560,3220 588.3,3274.8 C610,3310 640,3240 663,3200 C690,3140 720,3020 750,2960 C780,2900 800,2870 817.1,2858.2"/>
 <use href="#mPeO" x="439.9" y="2556"/><use href="#mPeO" x="588.3" y="3274.8"/><use href="#mPeO" x="817.1" y="2858.2"/>
</g>
<g stroke="#000" fill="none">
 <path stroke-width="8" d="M529.6,3385 v22 M838.7,3385 v22 M1147.9,3385 v22 M1457,3385 v22 M375,3385 v12 M684.1,3385 v12 M993.3,3385 v12 M1302.4,3385 v12 M375,3262.5 h-22 M375,3058.3 h-22 M375,2854.1 h-22 M375,2649.9 h-22 M375,2445.7 h-22 M375,3364.6 h-12 M375,3160.4 h-12 M375,2956.2 h-12 M375,2752 h-12 M375,2547.8 h-12"/>
 <rect x="375" y="2364" width="1082" height="1021" stroke-width="12"/>
</g>

<!-- B3 -->
<g clip-path="url(#clB)" fill="none" stroke-width="8" stroke-linejoin="round" stroke-linecap="round">
 <line x1="1836" y1="3262.5" x2="2919" y2="3262.5" stroke="#000" stroke-width="8" stroke-dasharray="28 16" stroke-linecap="butt"/>
 <path stroke="#4646ff" d="M1807.1,2425.3 C1843.8,2539.3 1953.9,2960.9 2027.3,3109.3 S2174.1,3278.5 2247.5,3315.6 S2394.4,3334.6 2467.8,3331.9 S2614.6,3308.8 2688,3299.3 S2851.6,3280.9 2908.2,3274.8 S3007.4,3264.6 3027.3,3262.5"/>
 <use href="#mSq" x="2027.3" y="3109.3"/><use href="#mSq" x="2247.5" y="3315.6"/><use href="#mSq" x="2467.8" y="3331.9"/><use href="#mSq" x="2688" y="3299.3"/><use href="#mSq" x="2908.2" y="3274.8"/>
 <path stroke="#a9a9ff" d="M1807.1,2323.2 C1843.8,2435.5 1953.9,2848.6 2027.3,2997 S2174.1,3173.3 2247.5,3213.5 S2394.4,3236 2467.8,3238 S2614.6,3226.4 2688,3225.7 S2851.6,3231.8 2908.2,3233.9 S3007.5,3237.3 3027.3,3238"/>
 <use href="#mCiF" x="2027.3" y="2997"/><use href="#mCiF" x="2247.5" y="3213.5"/><use href="#mCiF" x="2467.8" y="3238"/><use href="#mCiF" x="2688" y="3225.7"/><use href="#mCiF" x="2908.2" y="3233.9"/>
 <path stroke="#ffc6c6" d="M1807.1,2180.2 C1843.8,2302 1953.9,2749.6 2027.3,2911.3 S2174.1,3100.5 2247.5,3150.2 S2394.4,3192.7 2467.8,3209.4 S2614.6,3243.4 2688,3250.2 S2851.6,3249.5 2908.2,3250.2 S3007.5,3253.6 3027.3,3254.3"/>
 <use href="#mTrF" x="2027.3" y="2911.3"/><use href="#mTrF" x="2247.5" y="3150.2"/><use href="#mTrF" x="2467.8" y="3209.4"/><use href="#mTrF" x="2688" y="3250.2"/><use href="#mTrF" x="2908.2" y="3250.2"/>
 <path stroke="#ff7070" d="M1807.1,1996.5 C1843.8,2131.6 1953.9,2625 2027.3,2807.1 S2174.1,3024.6 2247.5,3088.9 S2394.4,3164.8 2467.8,3193.1 S2614.6,3246.1 2688,3258.4 S2851.6,3265.2 2908.2,3266.6 S3007.5,3266.6 3027.3,3266.6"/>
 <use href="#mDiF" x="2027.3" y="2807.1"/><use href="#mDiF" x="2247.5" y="3088.9"/><use href="#mDiF" x="2467.8" y="3193.1"/><use href="#mDiF" x="2688" y="3258.4"/><use href="#mDiF" x="2908.2" y="3266.6"/>
 <path stroke="#ff1c1c" d="M1807.1,1792.3 C1843.8,1942.7 1953.9,2490.6 2027.3,2694.8 S2174.1,2939.9 2247.5,3017.5 S2394.4,3120.6 2467.8,3160.4 S2614.6,3237.3 2688,3256.4 S2851.6,3271.7 2908.2,3274.8 S3007.5,3274.8 3027.3,3274.8"/>
 <use href="#mPeF" x="2027.3" y="2694.8"/><use href="#mPeF" x="2247.5" y="3017.5"/><use href="#mPeF" x="2467.8" y="3160.4"/><use href="#mPeF" x="2688" y="3256.4"/><use href="#mPeF" x="2908.2" y="3274.8"/>
 <path stroke="#a9a9ff" d="M1919,2841.9 C1934.1,2871.5 1972.6,3010 2009.3,3019.5 S2099.5,2945.6 2139.2,2899 S2192.7,2803.7 2247.5,2739.7 S2431.1,2552.5 2467.8,2515.1"/>
 <use href="#mCiO" x="1919" y="2841.9"/><use href="#mCiO" x="2009.3" y="3019.5"/><use href="#mCiO" x="2139.2" y="2899"/><use href="#mCiO" x="2247.5" y="2739.7"/><use href="#mCiO" x="2467.8" y="2515.1"/>
 <path stroke="#ffc6c6" d="M1919,2792.8 C1935.3,2839.8 1979.8,3045.3 2016.5,3074.6 S2100.7,3011.4 2139.2,2968.5 S2192.7,2877.2 2247.5,2817.3 S2431.1,2643.8 2467.8,2609.1"/>
 <use href="#mTrO" x="1919" y="2792.8"/><use href="#mTrO" x="2016.5" y="3074.6"/><use href="#mTrO" x="2139.2" y="2968.5"/><use href="#mTrO" x="2247.5" y="2817.3"/><use href="#mTrO" x="2467.8" y="2609.1"/>
 <path stroke="#ff7070" d="M1919,2715.2 C1940.1,2783.3 2008.7,3066.4 2045.4,3123.6 S2105.5,3092.3 2139.2,3058.3 S2192.7,2967.1 2247.5,2919.4 S2431.1,2796.9 2467.8,2772.4"/>
 <use href="#mDiO" x="1919" y="2715.2"/><use href="#mDiO" x="2045.4" y="3123.6"/><use href="#mDiO" x="2139.2" y="3058.3"/><use href="#mDiO" x="2247.5" y="2919.4"/><use href="#mDiO" x="2467.8" y="2772.4"/>
 <path stroke="#ff1c1c" d="M1919,2413 C1946.7,2536.2 2048.4,3033.8 2085.1,3152.2 C2095,3177 2120,3140 2139.2,3123.6 S2192.7,3056.9 2247.5,3025.6 S2431.1,2950.8 2467.8,2935.8"/>
 <use href="#mPeO" x="1919" y="2413"/><use href="#mPeO" x="2085.1" y="3152.2"/><use href="#mPeO" x="2139.2" y="3123.6"/><use href="#mPeO" x="2247.5" y="3025.6"/><use href="#mPeO" x="2467.8" y="2935.8"/>
</g>
<g stroke="#000" fill="none">
 <path stroke-width="8" d="M1836,3385 v22 M2197,3385 v22 M2558,3385 v22 M2919,3385 v22 M2016.5,3385 v12 M2377.5,3385 v12 M2738.5,3385 v12 M1836,3262.5 h-22 M1836,3058.3 h-22 M1836,2854.1 h-22 M1836,2649.9 h-22 M1836,2445.7 h-22 M1836,3364.6 h-12 M1836,3160.4 h-12 M1836,2956.2 h-12 M1836,2752 h-12 M1836,2547.8 h-12"/>
 <rect x="1836" y="2364" width="1083" height="1021" stroke-width="12"/>
</g>

<!-- C3 -->
<g clip-path="url(#clC)" fill="none" stroke-width="8" stroke-linejoin="round" stroke-linecap="round">
 <line x1="3296" y1="3051.2" x2="4380" y2="3051.2" stroke="#000" stroke-width="8" stroke-dasharray="28 16" stroke-linecap="butt"/>
 <path stroke="#4646ff" d="M3554.8,2424.8 C3577.2,2513.8 3643.6,2851.9 3689,2958.9 S3781.6,3048.2 3827.2,3066.9 S3917.1,3070.8 3962.7,3070.8 S4055.3,3069.5 4100.9,3066.9 S4189.9,3057.1 4236.4,3055.1 S4356.1,3055.1 4380,3055.1"/>
 <use href="#mSq" x="3554.8" y="2424.8"/><use href="#mSq" x="3689" y="2958.9"/><use href="#mSq" x="3827.2" y="3066.9"/><use href="#mSq" x="3962.7" y="3070.8"/><use href="#mSq" x="4100.9" y="3066.9"/><use href="#mSq" x="4236.4" y="3055.1"/>
 <path stroke="#a9a9ff" d="M3554.8,2418.9 C3577.2,2507.9 3643.6,2849.3 3689,2953 S3781.6,3020.1 3827.2,3041.4 S3917.1,3082.3 3962.7,3080.7 S4055.3,3034.2 4100.9,3031.6 S4189.9,3060.7 4236.4,3064.9 S4356.1,3058.4 4380,3057.1"/>
 <use href="#mCiF" x="3554.8" y="2418.9"/><use href="#mCiF" x="3689" y="2953"/><use href="#mCiF" x="3827.2" y="3041.4"/><use href="#mCiF" x="3962.7" y="3080.7"/><use href="#mCiF" x="4100.9" y="3031.6"/><use href="#mCiF" x="4236.4" y="3064.9"/>
 <path stroke="#ffc6c6" d="M3554.8,2415 C3577.2,2503.7 3643.6,2837.8 3689,2947.1 S3781.6,3051.8 3827.2,3070.8 S3917.1,3062 3962.7,3061 S4055.3,3066.2 4100.9,3064.9 S4189.9,3055.5 4236.4,3053.2 S4356.1,3051.5 4380,3051.2"/>
 <use href="#mTrF" x="3554.8" y="2415"/><use href="#mTrF" x="3689" y="2947.1"/><use href="#mTrF" x="3827.2" y="3070.8"/><use href="#mTrF" x="3962.7" y="3061"/><use href="#mTrF" x="4100.9" y="3064.9"/><use href="#mTrF" x="4236.4" y="3053.2"/>
 <path stroke="#ff7070" d="M3554.8,2409.1 C3577.2,2497.1 3643.6,2830.9 3689,2937.3 S3781.6,3027.3 3827.2,3047.3 S3917.1,3057.1 3962.7,3057.1 S4055.3,3049.3 4100.9,3047.3 S4189.9,3045.6 4236.4,3045.3 S4356.1,3045.3 4380,3045.3"/>
 <use href="#mDiF" x="3554.8" y="2409.1"/><use href="#mDiF" x="3689" y="2937.3"/><use href="#mDiF" x="3827.2" y="3047.3"/><use href="#mDiF" x="3962.7" y="3057.1"/><use href="#mDiF" x="4100.9" y="3047.3"/><use href="#mDiF" x="4236.4" y="3045.3"/>
 <path stroke="#ff1c1c" d="M3554.8,2401.3 C3577.2,2488 3643.6,2816.6 3689,2921.6 S3781.6,3012 3827.2,3031.6 S3917.1,3037.4 3962.7,3039.4 S4055.3,3042.3 4100.9,3043.3 S4189.9,3045 4236.4,3045.3 S4356.1,3045.3 4380,3045.3"/>
 <use href="#mPeF" x="3554.8" y="2401.3"/><use href="#mPeF" x="3689" y="2921.6"/><use href="#mPeF" x="3827.2" y="3031.6"/><use href="#mPeF" x="3962.7" y="3039.4"/><use href="#mPeF" x="4100.9" y="3043.3"/><use href="#mPeF" x="4236.4" y="3045.3"/>
 <path stroke="#a9a9ff" d="M3474.9,2699.7 C3488.9,2722.6 3525.5,2826.7 3558.9,2837.2 S3633,2789.4 3675.4,2762.6 S3767.5,2697.8 3813.6,2676.2 S3928.8,2640.2 3951.8,2633"/>
 <use href="#mCiO" x="3474.9" y="2699.7"/><use href="#mCiO" x="3558.9" y="2837.2"/><use href="#mCiO" x="3675.4" y="2762.6"/><use href="#mCiO" x="3813.6" y="2676.2"/><use href="#mCiO" x="3951.8" y="2633"/>
 <path stroke="#ffc6c6" d="M3431.5,2648.7 C3451.4,2703 3504.6,2942.2 3550.7,2974.6 S3658.7,2881.1 3707.9,2843.1 S3823.1,2762.9 3846.1,2746.9"/>
 <use href="#mTrO" x="3431.5" y="2648.7"/><use href="#mTrO" x="3550.7" y="2974.6"/><use href="#mTrO" x="3707.9" y="2843.1"/><use href="#mTrO" x="3846.1" y="2746.9"/>
 <path stroke="#ff7070" d="M3409.8,2511.2 C3432.4,2614.3 3499.7,3045.6 3545.3,3129.7 S3638.3,3053.5 3683.5,3015.9 S3771.6,2931.1 3816.3,2903.9 S3929.2,2861.4 3951.8,2852.9"/>
 <use href="#mDiO" x="3409.8" y="2511.2"/><use href="#mDiO" x="3545.3" y="3129.7"/><use href="#mDiO" x="3683.5" y="3015.9"/><use href="#mDiO" x="3816.3" y="2903.9"/><use href="#mDiO" x="3951.8" y="2852.9"/>
 <path stroke="#ff1c1c" d="M3396.3,2550.5 C3420.7,2674.2 3496.5,3187.3 3542.6,3292.7 S3628.4,3220.8 3672.7,3182.8 S3762.6,3095 3808.2,3064.9 S3923.4,3012.6 3946.4,3002.1"/>
 <use href="#mPeO" x="3396.3" y="2550.5"/><use href="#mPeO" x="3542.6" y="3292.7"/><use href="#mPeO" x="3672.7" y="3182.8"/><use href="#mPeO" x="3808.2" y="3064.9"/><use href="#mPeO" x="3946.4" y="3002.1"/>
</g>
<g stroke="#000" fill="none">
 <path stroke-width="8" d="M3296,3385 v22 M3567,3385 v22 M3838,3385 v22 M4109,3385 v22 M4380,3385 v22 M3431.5,3385 v12 M3702.5,3385 v12 M3973.5,3385 v12 M4244.5,3385 v12 M3296,3345.7 h-22 M3296,3051.2 h-22 M3296,2756.7 h-22 M3296,2462.2 h-22 M3296,3198.5 h-12 M3296,2903.9 h-12 M3296,2609.4 h-12"/>
 <rect x="3296" y="2364" width="1084" height="1021" stroke-width="12"/>
</g>

<!-- bottom legend -->
<g stroke-width="8">
 <path d="M4473,2490 H4631" stroke="#4646ff"/>
 <path d="M4473,2587 H4631" stroke="#a9a9ff"/>
 <path d="M4473,2684 H4631" stroke="#ffc6c6"/>
 <path d="M4473,2781 H4631" stroke="#ff7070"/>
 <path d="M4473,2880 H4631" stroke="#ff1c1c"/>
 <path d="M4473,3075 H4631" stroke="#a9a9ff"/>
 <path d="M4473,3172 H4631" stroke="#ffc6c6"/>
 <path d="M4473,3269 H4631" stroke="#ff7070"/>
 <path d="M4473,3366 H4631" stroke="#ff1c1c"/>
</g>
<use href="#mSq" transform="translate(4550,2490) scale(1.2)"/>
<use href="#mCiF" transform="translate(4550,2587) scale(1.2)"/>
<use href="#mTrF" transform="translate(4550,2684) scale(1.2)"/>
<use href="#mDiF" transform="translate(4550,2781) scale(1.2)"/>
<use href="#mPeF" transform="translate(4550,2880) scale(1.2)"/>
<circle cx="4550" cy="3075" r="20" fill="#fff"/><use href="#mCiO" transform="translate(4550,3075) scale(1.2)"/>
<polygon points="4550,3150 4574,3188 4526,3188" fill="#fff"/><use href="#mTrO" transform="translate(4550,3172) scale(1.2)"/>
<polygon points="4550,3244 4575,3269 4550,3294 4525,3269" fill="#fff"/><use href="#mDiO" transform="translate(4550,3269) scale(1.2)"/>
<circle cx="4550" cy="3368" r="20" fill="#fff"/><use href="#mPeO" transform="translate(4550,3366) scale(1.2)"/>

<!-- ================= TEXT ================= -->
<g fill="#000">
 <text x="214" y="200" font-size="140">(a)</text>
 <text x="1665" y="200" font-size="140">(b)</text>
 <text x="3128" y="200" font-size="140">(c)</text>
 <text x="915" y="325" font-size="116" font-weight="bold" text-anchor="middle">Cu(211)</text>
 <text x="2372" y="325" font-size="116" font-weight="bold" text-anchor="middle">Au/Cu(100) SAA</text>
 <text x="3825" y="325" font-size="116" font-weight="bold" text-anchor="middle">Cu-N<tspan font-size="80" dy="27">4</tspan><tspan dy="-27">-C SAC</tspan></text>

 <text x="4612" y="228" font-size="72" text-anchor="middle">0.005</text>
 <text x="4612" y="780" font-size="72" text-anchor="middle">-0.005</text>
 <text transform="translate(4762,478) rotate(-90)" font-size="66" text-anchor="middle">Δρ (e·Bohr<tspan font-size="46" dy="-26">−3</tspan><tspan dy="26">)</tspan></text>

 <g font-size="94" text-anchor="middle">
  <text x="508" y="2038">0.00</text><text x="793" y="2038">0.15</text><text x="1077" y="2038">0.30</text><text x="1362" y="2038">0.45</text>
  <text x="1836" y="2038">0.2</text><text x="2077" y="2038">0.3</text><text x="2317" y="2038">0.4</text><text x="2558" y="2038">0.5</text><text x="2799" y="2038">0.6</text>
  <text x="3395" y="2038">-1.4</text><text x="3625" y="2038">-0.7</text><text x="3855" y="2038">0.0</text><text x="4084" y="2038">0.7</text><text x="4314" y="2038">1.4</text>
 </g>
 <g font-size="94" text-anchor="end">
  <text x="342" y="1017">1.2</text><text x="342" y="1290">1.0</text><text x="342" y="1562">0.8</text><text x="342" y="1835">0.6</text>
  <text x="1802" y="1017">1.2</text><text x="1802" y="1290">1.0</text><text x="1802" y="1562">0.8</text><text x="1802" y="1835">0.6</text>
  <text x="3264" y="1017">1.2</text><text x="3264" y="1290">1.0</text><text x="3264" y="1562">0.8</text><text x="3264" y="1835">0.6</text>
 </g>
 <g font-size="94" text-anchor="middle">
  <text x="530" y="3491">2</text><text x="839" y="3491">3</text><text x="1148" y="3491">4</text><text x="1457" y="3491">5</text>
  <text x="1836" y="3491">2</text><text x="2197" y="3491">3</text><text x="2558" y="3491">4</text><text x="2919" y="3491">5</text>
  <text x="3296" y="3491">1</text><text x="3567" y="3491">2</text><text x="3838" y="3491">3</text><text x="4109" y="3491">4</text><text x="4380" y="3491">5</text>
 </g>
 <g font-size="94" text-anchor="end">
  <text x="342" y="2480">2.0</text><text x="342" y="2684">1.5</text><text x="342" y="2888">1.0</text><text x="342" y="3092">0.5</text><text x="342" y="3296">0.0</text>
  <text x="1802" y="2480">2.0</text><text x="1802" y="2684">1.5</text><text x="1802" y="2888">1.0</text><text x="1802" y="3092">0.5</text><text x="1802" y="3296">0.0</text>
  <text x="3264" y="2496">3.0</text><text x="3264" y="2791">1.5</text><text x="3264" y="3085">0.0</text><text x="3264" y="3380">-1.5</text>
 </g>

 <text transform="translate(133,1426) rotate(-90)" font-size="108" text-anchor="middle">ΔΩ<tspan font-size="74" dy="-36">≠</tspan><tspan font-size="74" dx="-43" dy="66">ET</tspan><tspan dy="-30"> (eV)</tspan></text>
 <text transform="translate(1593,1426) rotate(-90)" font-size="108" text-anchor="middle">ΔΩ<tspan font-size="74" dy="-36">≠</tspan><tspan font-size="74" dx="-43" dy="66">ET</tspan><tspan dy="-30"> (eV)</tspan></text>
 <text transform="translate(3061,1424) rotate(-90)" font-size="108" text-anchor="middle">ΔΩ<tspan font-size="74" dy="-36">≠</tspan><tspan font-size="74" dx="-43" dy="66">ET</tspan><tspan dy="-30"> (eV)</tspan></text>
 <text x="916" y="2186" font-size="110" text-anchor="middle">ΔΩ<tspan font-size="80" dy="28">ET</tspan><tspan dy="-28"> (eV)</tspan></text>
 <text x="2376" y="2186" font-size="110" text-anchor="middle">ΔΩ<tspan font-size="80" dy="28">ET</tspan><tspan dy="-28"> (eV)</tspan></text>
 <text x="3837" y="2186" font-size="110" text-anchor="middle">ΔΩ<tspan font-size="80" dy="28">ET</tspan><tspan dy="-28"> (eV)</tspan></text>

 <text transform="translate(148,2875) rotate(-90)" font-size="110" text-anchor="middle">ΔΩ (eV)</text>
 <text transform="translate(1608,2875) rotate(-90)" font-size="110" text-anchor="middle">ΔΩ (eV)</text>
 <text transform="translate(3074,2875) rotate(-90)" font-size="110" text-anchor="middle">ΔΩ (eV)</text>
 <text x="916" y="3617" font-size="110" text-anchor="middle">d<tspan font-size="80" dy="33">C-surface</tspan><tspan dy="-33" font-weight="bold"> (Å)</tspan></text>
 <text x="2374" y="3617" font-size="110" text-anchor="middle">d<tspan font-size="80" dy="33">C-surface</tspan><tspan dy="-33" font-weight="bold"> (Å)</tspan></text>
 <text x="3837" y="3617" font-size="110" text-anchor="middle">d<tspan font-size="80" dy="33">C-surface</tspan><tspan dy="-33" font-weight="bold"> (Å)</tspan></text>

 <text x="974" y="1138" font-size="92">Cu(100)</text>

 <g font-size="70">
  <text x="4614" y="1254">−0.5 V</text>
  <text x="4614" y="1395">−1 V</text>
  <text x="4614" y="1536">−1.5 V</text>
  <text x="4614" y="1675">−2 V</text>
 </g>
 <g font-size="68">
  <text x="4473" y="2416">Physisorption</text>
  <text x="4688" y="2514">0 V</text>
  <text x="4651" y="2611">−0.5 V</text>
  <text x="4651" y="2708">−1 V</text>
  <text x="4651" y="2805">−1.5 V</text>
  <text x="4651" y="2904">−2 V</text>
  <text x="4473" y="3006">Chemisorption</text>
  <text x="4651" y="3099">−0.5 V</text>
  <text x="4651" y="3196">−1 V</text>
  <text x="4651" y="3293">−1.5 V</text>
  <text x="4651" y="3390">−2 V</text>
 </g>
</g>
</svg>
</body></html>
